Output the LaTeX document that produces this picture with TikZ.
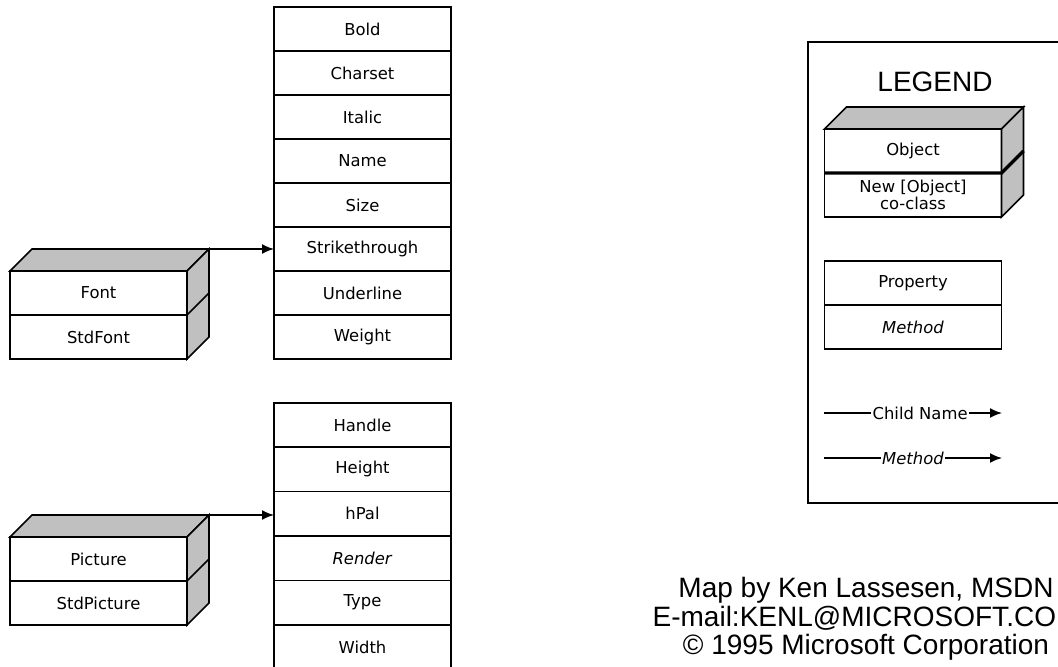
\documentclass[tikz,border=0pt]{standalone}
\usepackage{fontspec}
\setmainfont{DejaVu Sans}
\newfontfamily\arialfont{Liberation Sans}
\usetikzlibrary{positioning,arrows.meta}
\definecolor{facegray}{RGB}{192,192,192}
\tikzset{
cell/.style={draw, fill=white, minimum width=132.75pt, minimum height=33pt,
  inner sep=0pt, outer sep=0pt, align=center, font=\fontsize{12.3}{13}\selectfont},
face/.style={draw, fill=facegray},
arr/.style={-{Latex[length=9pt,width=7.5pt]}},
big/.style={font=\arialfont\fontsize{21}{21.3}\selectfont}}
\tikzset{every picture/.style={line width=1.3pt}}

\begin{document}
\begin{tikzpicture}[x=0.75pt,y=0.75pt,yscale=-1,xscale=1]

\useasboundingbox (0,0) rectangle (1058,667);

% PROPERTY COLUMNS

\foreach \t [count=\i] in {Bold,Charset,Italic,Name,Size,Strikethrough,Underline,Weight}{
    \node[cell] (f\i) at (362.5,29+44*\i-44) {\t};
}

\foreach \t [count=\i] in {Handle,Height,hPal,\textit{Render},Type,Width}{
    \node[cell, minimum height=33.3pt] (p\i) at (362.5,425+44.4*\i-44.4) {\t};
}

% OBJECTS

\node[cell] (font1) at (98.5,293) {Font};
\node[cell, below=0pt of font1] (font2) {StdFont};

\node[cell] (pic1) at (98.5,559) {Picture};
\node[cell, below=0pt of pic1] (pic2) {StdPicture};

\node[cell] (obj1) at (913,151) {Object};
\node[cell, below=0pt of obj1] (obj2) {New [Object]\\co-class};

% FACES

\foreach \o in {font,pic,obj}{
    \draw[face] (\o1.north west) -- ++(22,-22) -- ++(177,0) coordinate (back\o)
          -- (\o1.north east) -- cycle;
    \draw[face] (\o1.north east) -- (back\o) -- ++(0,88) -- (\o2.south east) -- cycle;
    \draw (\o1.south east) -- ++(22,-22);
}
\draw[line width=2.6pt] (obj1.south west) -- (obj1.south east) -- ++(22,-22);

% ARROWS

\draw[arr] (backfont) -- (backfont -| f6.west);
\draw[arr] (backpic) -- (backpic -| p3.west);

% LEGEND

\draw (808,42) rectangle (1075,503);
\node[big] (legend) at (935,82) {LEGEND};

\node[cell] (prop) at (913,283) {Property};
\node[cell, below=0pt of prop] (meth) {\textit{Method}};

\coordinate (childa) at (824,413);
\coordinate (childb) at (1002,413);
\coordinate (metha) at (824,458);
\coordinate (methb) at (1002,458);

\draw[arr] (childa) -- node[pos=.54, fill=white, inner sep=1pt,
    font=\fontsize{12.3}{13}\selectfont] (childlabel) {Child Name} (childb);
\draw[arr] (metha) -- node[pos=.5, fill=white, inner sep=1pt,
    font=\fontsize{12.3}{13}\selectfont] (methlabel) {\textit{Method}} (methb);

% CREDITS

\node[big, align=center] (credit) at (866,619)
    {Map by Ken Lassesen, MSDN\\E-mail:KENL@MICROSOFT.COM\\© 1995 Microsoft Corporation};

\end{tikzpicture}
\end{document}
